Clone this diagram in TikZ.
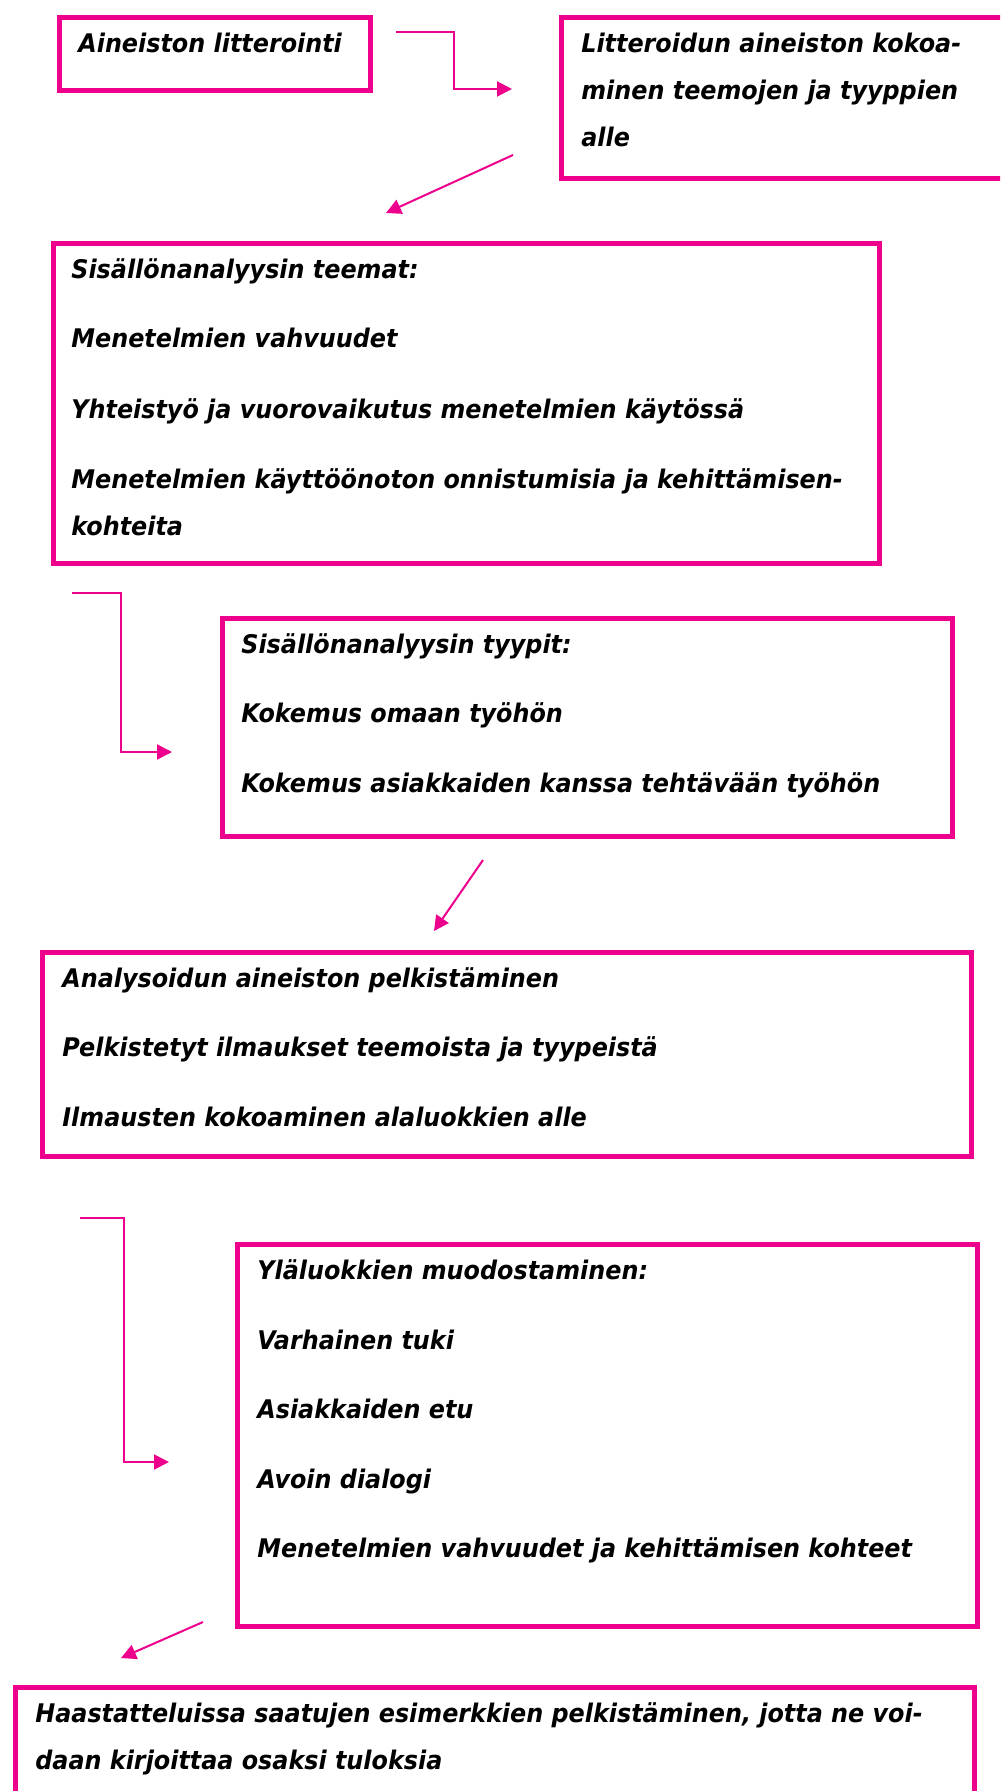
\documentclass[tikz,border=0pt]{standalone}
\usepackage{fontspec}
\setmainfont{DejaVu Sans}[FakeStretch=0.93]
\usetikzlibrary{arrows.meta}
\definecolor{flowpink}{RGB}{236,0,140}
\tikzset{
  stage/.style={draw=flowpink, line width=1mm, anchor=north west, inner sep=0pt},
  entry/.style={anchor=base west, inner sep=0pt, font=\fontsize{14.6}{17}\selectfont\bfseries\itshape},
  flow/.style={draw=flowpink, line width=0.4mm, -{Triangle[length=3mm,width=3mm]}}
}
\begin{document}
\begin{tikzpicture}[x=0.2mm, y=-0.2mm]
\useasboundingbox (0,0) rectangle (1000,1791);
\clip (0,0) rectangle (1000,1791);
\node[stage, minimum width=62.2mm, minimum height=14.6mm] (litt) at (56.5,15.5) {};
\node[stage, minimum width=89.8mm, minimum height=32.2mm] (kokoa) at (558.5,15.5) {};
\node[stage, minimum width=165.2mm, minimum height=63.8mm] (teemat) at (50.5,241.5) {};
\node[stage, minimum width=146mm, minimum height=43.6mm] (tyypit) at (219.5,615.5) {};
\node[stage, minimum width=185.8mm, minimum height=40.8mm] (pelk) at (39.5,949.5) {};
\node[stage, minimum width=148mm, minimum height=76.4mm] (ylal) at (234.5,1241.5) {};
\node[stage, minimum width=191.8mm, minimum height=30mm] (haast) at (12.5,1684.5) {};

\node[entry] (litt-1) at (78,53) {Aineiston litterointi};
\node[entry] (kokoa-1) at (581,53) {Litteroidun aineiston kokoa-};
\node[entry] (kokoa-2) at (581,100) {minen teemojen ja tyyppien};
\node[entry] (kokoa-3) at (581,147) {alle};
\node[entry] (teemat-1) at (71,279) {Sisällönanalyysin teemat:};
\node[entry] (teemat-2) at (71,348) {Menetelmien vahvuudet};
\node[entry] (teemat-3) at (71,418) {Yhteistyö ja vuorovaikutus menetelmien käytössä};
\node[entry] (teemat-4) at (71,488) {Menetelmien käyttöönoton onnistumisia ja kehittämisen-};
\node[entry] (teemat-5) at (71,535) {kohteita};
\node[entry] (tyypit-1) at (241,653) {Sisällönanalyysin tyypit:};
\node[entry] (tyypit-2) at (241,722) {Kokemus omaan työhön};
\node[entry] (tyypit-3) at (241,792) {Kokemus asiakkaiden kanssa tehtävään työhön};
\node[entry] (pelk-1) at (62,987) {Analysoidun aineiston pelkistäminen};
\node[entry] (pelk-2) at (62,1056) {Pelkistetyt ilmaukset teemoista ja tyypeistä};
\node[entry] (pelk-3) at (62,1126) {Ilmausten kokoaminen alaluokkien alle};
\node[entry] (ylal-1) at (257,1279) {Yläluokkien muodostaminen:};
\node[entry] (ylal-2) at (257,1349) {Varhainen tuki};
\node[entry] (ylal-3) at (257,1418) {Asiakkaiden etu};
\node[entry] (ylal-4) at (257,1488) {Avoin dialogi};
\node[entry] (ylal-5) at (257,1557) {Menetelmien vahvuudet ja kehittämisen kohteet};
\node[entry] (haast-1) at (35,1722) {Haastatteluissa saatujen esimerkkien pelkistäminen, jotta ne voi-};
\node[entry] (haast-2) at (35,1769) {daan kirjoittaa osaksi tuloksia};

\coordinate (litt-out) at (396,32);
\coordinate (bend-a) at (454,89);
\coordinate (kokoa-in) at (512,89);
\coordinate (kokoa-out) at (513,155);
\coordinate (teemat-in) at (386,213);
\coordinate (teemat-out) at (72,593);
\coordinate (bend-b) at (121,752);
\coordinate (tyypit-in) at (172,752);
\coordinate (tyypit-out) at (483,860);
\coordinate (pelk-in) at (434,931);
\coordinate (pelk-out) at (80,1218);
\coordinate (bend-c) at (124,1462);
\coordinate (ylal-in) at (169,1462);
\coordinate (ylal-out) at (203,1622);
\coordinate (haast-in) at (121,1658);

\draw[flow] (litt-out) -| (bend-a) -- (kokoa-in);
\draw[flow] (kokoa-out) -- (teemat-in);
\draw[flow] (teemat-out) -| (bend-b) -- (tyypit-in);
\draw[flow] (tyypit-out) -- (pelk-in);
\draw[flow] (pelk-out) -| (bend-c) -- (ylal-in);
\draw[flow] (ylal-out) -- (haast-in);
\end{tikzpicture}
\end{document}
